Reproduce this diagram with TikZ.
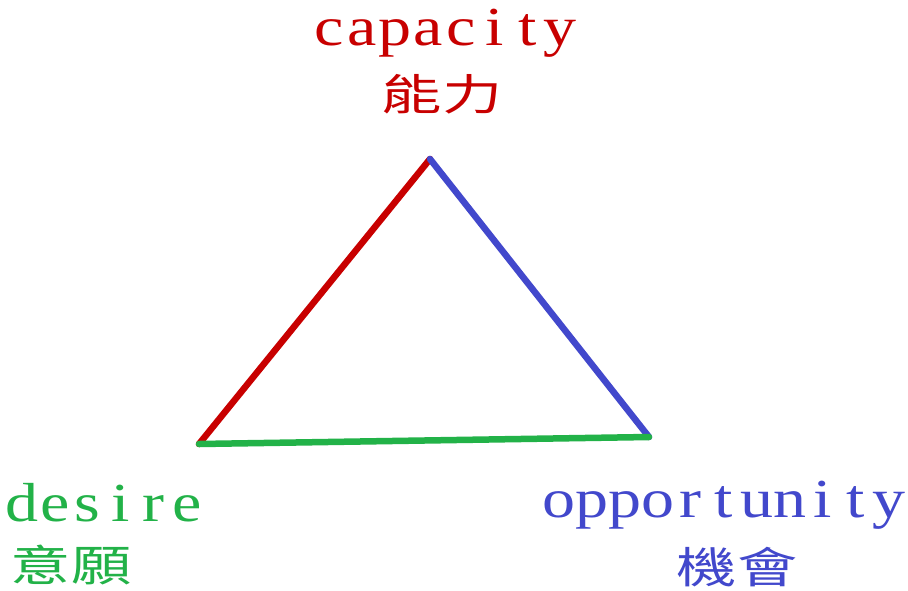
\documentclass[tikz,border=0pt]{standalone}
\usepackage{fontspec}
\setmainfont{Liberation Serif}
\newfontfamily\cjkfont{Noto Sans CJK TC}
\definecolor{capred}{RGB}{200,0,0}
\definecolor{oppblue}{RGB}{66,72,204}
\definecolor{desgreen}{RGB}{34,178,72}
\newcommand\monotext[1]{\monoloop#1\relax}
\def\monoloop#1{\ifx#1\relax\else\makebox[33pt][c]{\scalebox{1.2}[1]{#1}}\expandafter\monoloop\fi}
\newcommand\cjkwide[1]{\scalebox{1.4}[1]{\cjkfont #1}}
\begin{document}
\begin{tikzpicture}[x=1pt,y=-1pt,
  latin/.style={inner sep=0pt,anchor=base west,font=\fontsize{55}{60}\selectfont},
  cjk/.style={inner sep=0pt,anchor=center,font=\fontsize{43}{48}\selectfont},
  edge/.style={line width=6.5pt,line cap=round}]
\useasboundingbox[fill=white] (0,0) rectangle (908,590);
\coordinate (top) at (430,159);
\coordinate (left) at (199,444);
\coordinate (right) at (649,437);
\draw[edge,capred] (left) -- (top);
\draw[edge,oppblue] (top) -- (right);
\draw[edge,desgreen] (left) -- (right);
\node[latin,text=capred] (capacity) at (312.5,45) {\monotext{capacity}};
\node[cjk,text=capred] (nengli) at (442,94) {\cjkwide{能力}};
\node[latin,text=desgreen] (desire) at (5,521) {\monotext{desire}};
\node[cjk,text=desgreen] (yiyuan) at (71,565) {\cjkwide{意願}};
\node[latin,text=oppblue] (opportunity) at (542,517) {\monotext{opportunity}};
\node[cjk,text=oppblue] (jihui) at (737,567) {\cjkwide{機會}};
\end{tikzpicture}
\end{document}
